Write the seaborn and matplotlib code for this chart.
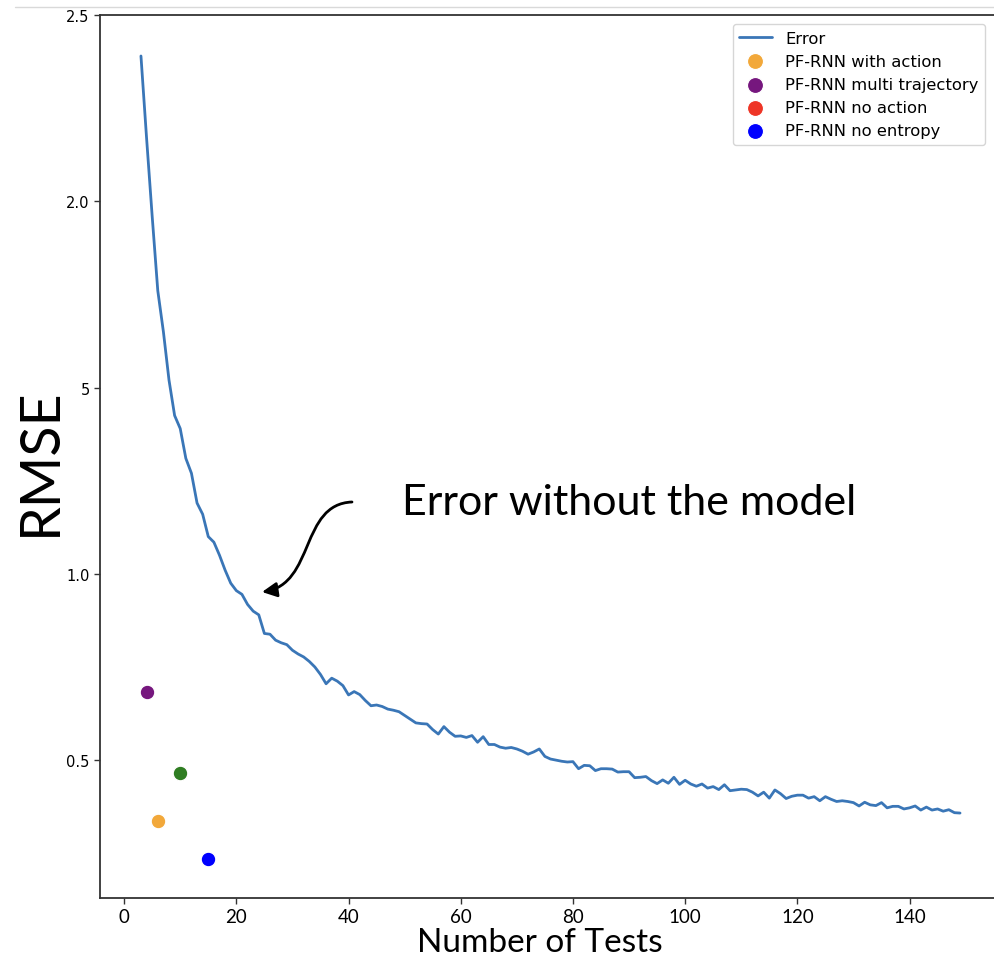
import matplotlib
matplotlib.use("Agg")
import matplotlib.pyplot as plt
import seaborn as sns
import pandas as pd
from matplotlib.lines import Line2D
from matplotlib.path import Path
from matplotlib.patches import FancyArrowPatch

# Error curve (RMSE vs number of tests)
n_tests = list(range(3, 150))
rmse = [
    2.39, 2.17, 1.96, 1.76, 1.65, 1.52, 1.425, 1.39, 1.31, 1.27,
    1.19, 1.16, 1.10, 1.085, 1.05, 1.01, 0.975, 0.955, 0.945, 0.918,
    0.90, 0.89, 0.84, 0.838, 0.822, 0.815, 0.81, 0.795, 0.785, 0.777,
    0.765, 0.75, 0.73, 0.705, 0.72, 0.712, 0.70, 0.675, 0.684, 0.676,
    0.66, 0.646, 0.648, 0.644, 0.637, 0.634, 0.63, 0.62, 0.61, 0.60,
    0.598, 0.597, 0.582, 0.57, 0.59, 0.575, 0.564, 0.565, 0.561, 0.566,
    0.548, 0.563, 0.542, 0.542, 0.535, 0.532, 0.534, 0.53, 0.524, 0.516,
    0.522, 0.53, 0.51, 0.503, 0.50, 0.497, 0.495, 0.496, 0.477, 0.486,
    0.485, 0.472, 0.477, 0.477, 0.476, 0.468, 0.469, 0.469, 0.453, 0.454,
    0.456, 0.445, 0.437, 0.447, 0.438, 0.454, 0.435, 0.446, 0.436, 0.430,
    0.436, 0.425, 0.429, 0.421, 0.434, 0.418, 0.42, 0.422, 0.421, 0.414,
    0.404, 0.414, 0.398, 0.42, 0.41, 0.397, 0.403, 0.406, 0.406, 0.398,
    0.402, 0.391, 0.402, 0.395, 0.389, 0.391, 0.389, 0.386, 0.377, 0.387,
    0.38, 0.378, 0.386, 0.372, 0.376, 0.376, 0.369, 0.372, 0.377, 0.366,
    0.374, 0.366, 0.369, 0.363, 0.367, 0.359, 0.358,
]

# model points (the green one has no legend entry in the original)
model_names = ["PF-RNN with action", "PF-RNN multi trajectory", "PF-RNN no action",
               "PF-RNN no entropy", "_nolegend_"]
model_tests = [6, 4, 10, 15, 10]
model_rmse = [0.336, 0.683, 0.466, 0.234, 0.466]
model_colors = ["#F2A83A", "#76177E", "#EE3526", "#0000FF", "#2F7D22"]

line_color = "#3A76B7"

sns.set_style("ticks")
plt.rcParams["font.family"] = ["DejaVu Sans"]
plt.rcParams["text.color"] = "black"
plt.rcParams["xtick.color"] = "black"
plt.rcParams["ytick.color"] = "black"

W, H = 994, 962
fig = plt.figure(figsize=(W / 100, H / 100), dpi=100)
ax = fig.add_axes([100 / W, 1 - 899 / H, (1001 - 100) / W, (899 - 16) / H])

df = pd.DataFrame({"tests": n_tests, "rmse": rmse})
sns.lineplot(data=df, x="tests", y="rmse", ax=ax, color=line_color, lw=2, label="Error")

for name, xt, yr, c in zip(model_names, model_tests, model_rmse, model_colors):
    sns.scatterplot(x=[xt], y=[yr], ax=ax, color=c, s=110, label=name, zorder=3)

ax.set_xlim(-4.3, 156.3)
ax.set_ylim(0.13, 2.5)
ax.set_xlabel("")
ax.set_ylabel("")

ax.set_yticks([0.5, 1.0, 1.5, 2.0, 2.5])
ax.set_yticklabels(["0.5", "1.0", "5", "2.0", "2.5"], fontsize=10.5)
ax.set_xticks(range(0, 141, 20))
ax.set_xticklabels([str(v) for v in range(0, 141, 20)], fontsize=13.5, family="Lato")
ax.tick_params(length=4, width=1, color="#333333")
for s in ax.spines.values():
    s.set_color("#333333")
    s.set_linewidth(1.3)

leg = ax.legend(loc="upper right", bbox_to_anchor=(985 / W, 1 - 25 / H),
                bbox_transform=fig.transFigure, borderaxespad=0, fontsize=11.8,
                markerscale=1.1, frameon=True)
for t in leg.get_texts():
    t.set_color("black")

# axis titles and annotation, placed like the slide text
fig.text(40 / W, 1 - 462 / H, "RMSE", rotation=90, ha="center", va="center",
         fontsize=40, family="Lato", color="black")
fig.text(540 / W, 1 - 943 / H, "Number of Tests", ha="center", va="center",
         fontsize=24, family="Lato", color="black")
fig.text(402 / W, 1 - 503 / H, "Error without the model", ha="left", va="center",
         fontsize=31, family="Lato", color="black")

def fpt(x, y):
    return (x / W, 1 - y / H)

arrow_path = Path([fpt(352, 503), fpt(300, 505), fpt(315, 585), fpt(262, 593)],
                  [Path.MOVETO, Path.CURVE4, Path.CURVE4, Path.CURVE4])
fig.add_artist(FancyArrowPatch(path=arrow_path, arrowstyle="-|>", mutation_scale=22,
                               color="black", lw=2, transform=fig.transFigure))

# faint line at the top of the screenshot
fig.add_artist(Line2D([15 / W, 1], [1 - 8 / H, 1 - 8 / H], color="#d9d9d9", lw=1))

fig.savefig("out.png", dpi=100)
